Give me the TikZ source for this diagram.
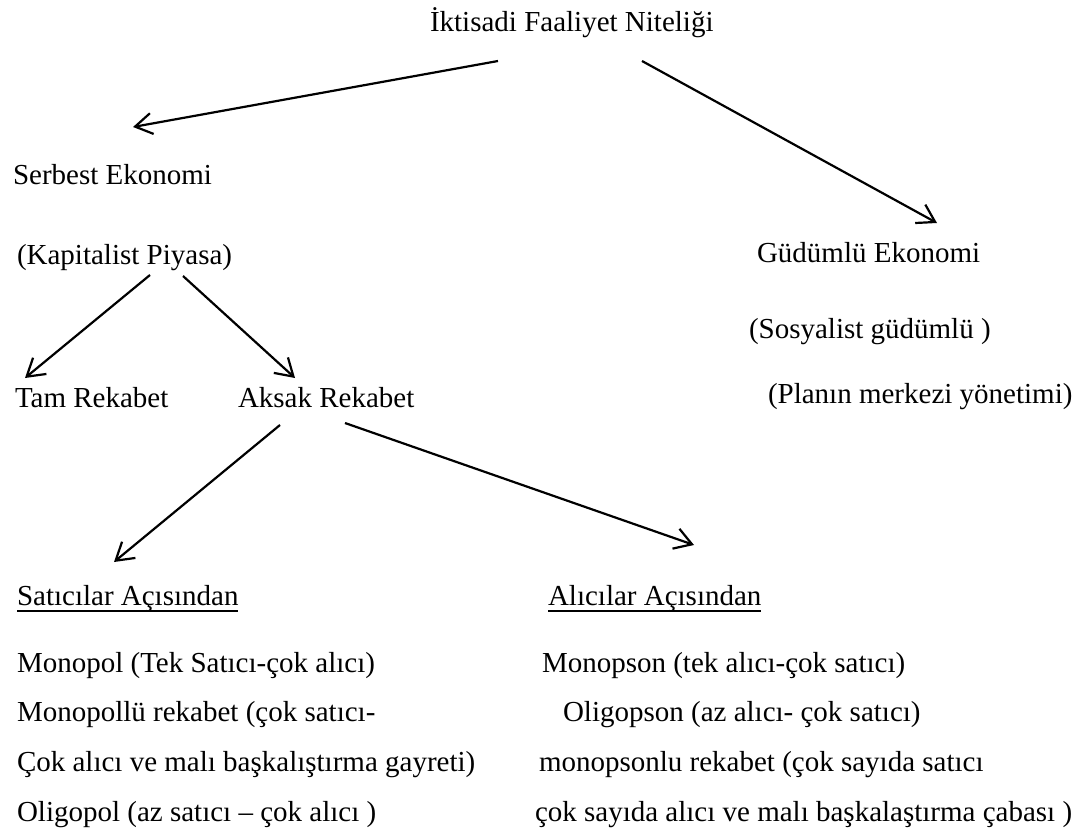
\documentclass[tikz,border=0pt]{standalone}
\usepackage{fontspec}
\setmainfont{Liberation Serif}
\usetikzlibrary{arrows.meta}
\begin{document}
\begin{tikzpicture}[x=1pt,y=-1pt,
  lbl/.style={anchor=base west,inner sep=0pt,outer sep=0pt,font=\fontsize{29}{35}\selectfont},
  arr/.style={line width=2.2pt,-{Straight Barb[length=17pt,width=21pt,line width=2.2pt]}},
  uline/.style={line width=1.6pt}]
\useasboundingbox[fill=white] (0,0) rectangle (1083,832);
% texts
\node[lbl] (title) at (430,32) {İktisadi Faaliyet Niteliği};
\node[lbl] (serbest) at (13,184) {Serbest Ekonomi};
\node[lbl] (kap) at (17,264) {(Kapitalist Piyasa)};
\node[lbl] (gud) at (757,262) {Güdümlü Ekonomi};
\node[lbl] (sos) at (749,338) {(Sosyalist güdümlü )};
\node[lbl] (plan) at (768,403) {(Planın merkezi yönetimi)};
\node[lbl] (tam) at (15,407) {Tam Rekabet};
\node[lbl] (aksak) at (238,407) {Aksak Rekabet};
\node[lbl] (sat) at (17,605) {Satıcılar Açısından};
\node[lbl] (ali) at (548,605) {Alıcılar Açısından};
\draw[uline] ([yshift=-6pt]sat.base west) -- ([yshift=-6pt]sat.base east);
\draw[uline] ([yshift=-6pt]ali.base west) -- ([yshift=-6pt]ali.base east);
\node[lbl] (l1) at (17,672) {Monopol (Tek Satıcı-çok alıcı)};
\node[lbl] (l2) at (17,721) {Monopollü rekabet (çok satıcı-};
\node[lbl] (l3) at (17,771) {Çok alıcı ve malı başkalıştırma gayreti)};
\node[lbl] (l4) at (17,821) {Oligopol (az satıcı – çok alıcı )};
\node[lbl] (r1) at (542,672) {Monopson (tek alıcı-çok satıcı)};
\node[lbl] (r2) at (563,721) {Oligopson (az alıcı- çok satıcı)};
\node[lbl] (r3) at (539,771) {monopsonlu rekabet (çok sayıda satıcı};
\node[lbl] (r4) at (535,821) {çok sayıda alıcı ve malı başkalaştırma çabası )};
% arrows
\draw[arr] ([shift={(68,29)}]title.base west) -- ([shift={(120,-57)}]serbest.base west);
\draw[arr] ([shift={(212,29)}]title.base west) -- ([shift={(180,-39)}]gud.base west);
\draw[arr] ([shift={(133,11)}]kap.base west) -- ([shift={(10,-29)}]tam.base west);
\draw[arr] ([shift={(166,12)}]kap.base west) -- ([shift={(57,-29)}]aksak.base west);
\draw[arr] ([shift={(42,18)}]aksak.base west) -- ([shift={(97,-43)}]sat.base west);
\draw[arr] ([shift={(107,16)}]aksak.base west) -- ([shift={(146,-60)}]ali.base west);
\end{tikzpicture}
\end{document}
